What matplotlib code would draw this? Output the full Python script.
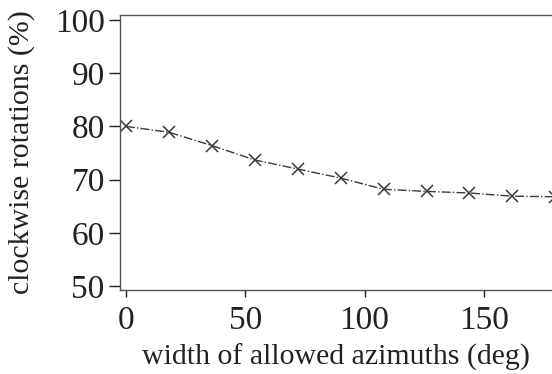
import matplotlib
matplotlib.use("Agg")
import matplotlib.pyplot as plt

# width of allowed azimuths (deg) vs clockwise rotations (%)
widths = [0, 18, 36, 54, 72, 90, 108, 126, 144, 162, 180]
clockwise = [80.0, 78.9, 76.4, 73.7, 72.0, 70.3, 68.2, 67.8, 67.5, 66.9, 66.8]

x_ticks = [0, 50, 100, 150]
y_ticks = [50, 60, 70, 80, 90, 100]

plt.rcParams['font.family'] = ['Liberation Serif', 'DejaVu Serif']

fig = plt.figure(figsize=(5.52, 3.74), dpi=100)
ax = fig.add_axes([120 / 552, 1 - 290 / 374, 1 - 120 / 552, 275 / 374])

ax.plot(widths, clockwise, color="#3a3a3a", linestyle="-.", linewidth=1.0,
        marker="x", markersize=8, markeredgewidth=1.1)

ax.set_xlim(-2.5, 178.6)
ax.set_ylim(49.3, 100.9)
ax.set_xticks(x_ticks)
ax.set_yticks(y_ticks)

for s in ax.spines.values():
    s.set_color("#555555")
    s.set_linewidth(1.0)
ax.spines['right'].set_visible(False)

ax.tick_params(axis='both', labelsize=24, colors="#222222", width=1.0)
ax.tick_params(axis='y', length=8, pad=3)
ax.tick_params(axis='x', length=5, pad=6)

ax.set_xlabel("width of allowed azimuths (deg)", fontsize=21.5, color="#222222", labelpad=6)
ax.set_ylabel("clockwise rotations (%)", fontsize=21.5, color="#222222", labelpad=14)

fig.savefig("out.png", dpi=100)
